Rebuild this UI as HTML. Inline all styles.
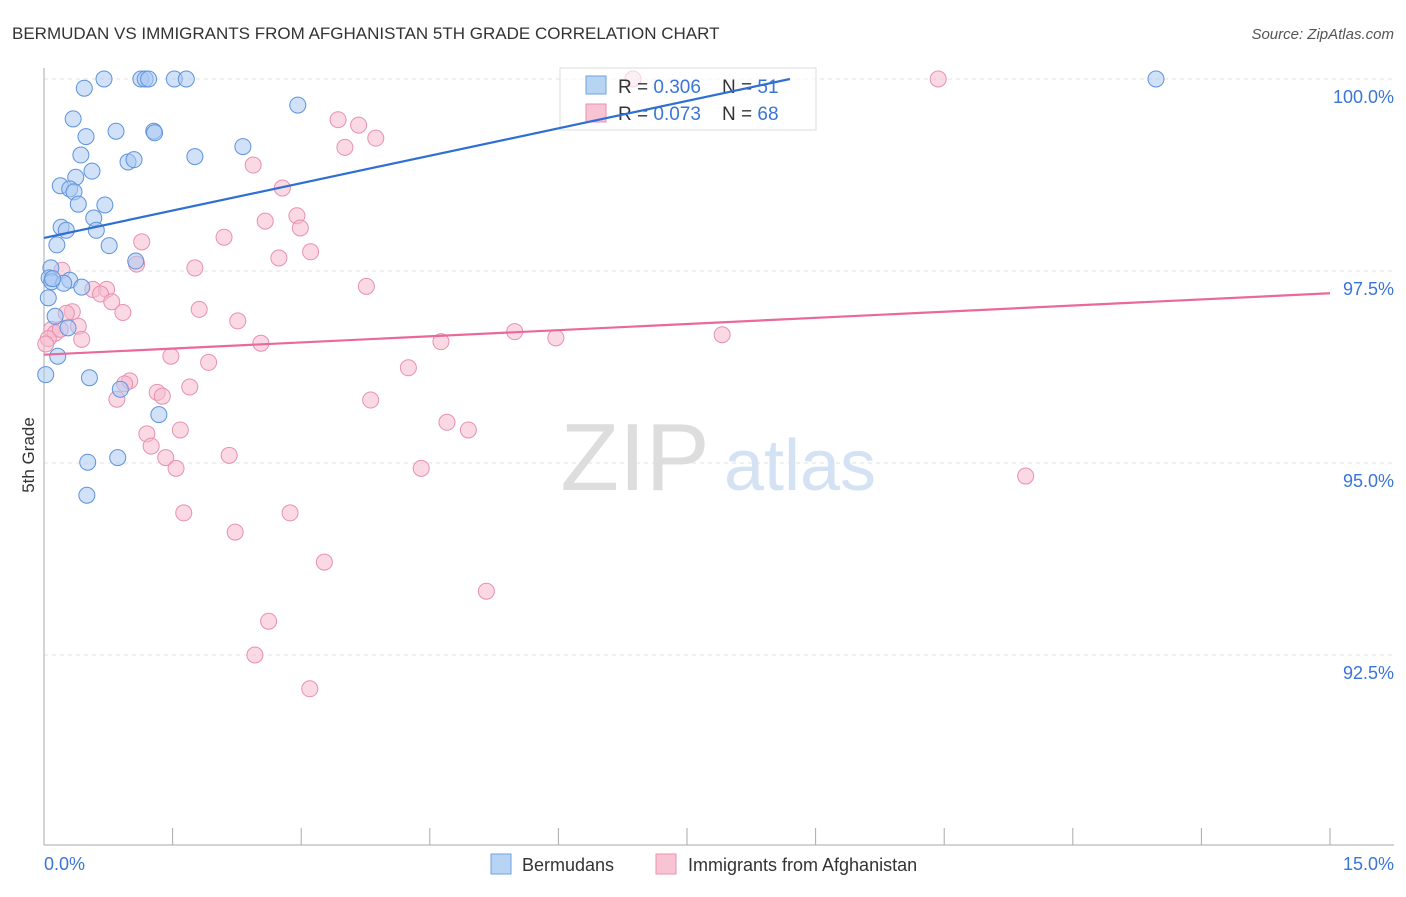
<!DOCTYPE html>
<html><head><meta charset="utf-8">
<style>
body{margin:0;background:#fff;font-family:"Liberation Sans",sans-serif;}
svg text{font-family:"Liberation Sans",sans-serif;}
</style></head>
<body>
<svg id="chart" width="1406" height="892" xmlns="http://www.w3.org/2000/svg">
<text x="12" y="39" font-size="17" fill="#333">BERMUDAN VS IMMIGRANTS FROM AFGHANISTAN 5TH GRADE CORRELATION CHART</text>
<text x="1394" y="39" font-size="15" fill="#555" text-anchor="end" font-style="italic">Source: ZipAtlas.com</text>
<g id="grid"></g>
<g>
<text x="635" y="490" font-size="96" fill="#ddd" text-anchor="middle" font-family="Liberation Serif">ZIP</text>
<text x="800" y="490" font-size="72" fill="#d4e2f4" text-anchor="middle">atlas</text>
</g>
<g id="axes"></g>
<g id="pts"></g>
<g>
<rect x="560" y="68" width="256" height="62" fill="#fff" fill-opacity="0.6" stroke="#ddd"/>
<rect x="586" y="76" width="20" height="18" fill="#b8d4f4" stroke="#6fa0e0"/>
<rect x="586" y="104" width="20" height="18" fill="#f8c4d4" stroke="#e890ae"/>
<text x="618" y="93" font-size="19" fill="#333" xml:space="preserve" style="white-space:pre">R = <tspan fill="#3a75d8">0.306</tspan>    N = <tspan fill="#3a75d8">51</tspan></text>
<text x="618" y="120" font-size="19" fill="#333" xml:space="preserve" style="white-space:pre">R = <tspan fill="#3a75d8">0.073</tspan>    N = <tspan fill="#3a75d8">68</tspan></text>
</g>
<g id="lines"></g>
<text x="34" y="455" font-size="17" fill="#333" text-anchor="middle" transform="rotate(-90 34 455)">5th Grade</text>
<g>
<rect x="491" y="854" width="20" height="20" fill="#b8d4f4" stroke="#6fa0e0"/>
<text x="522" y="871" font-size="18" fill="#333">Bermudans</text>
<rect x="656" y="854" width="20" height="20" fill="#f8c4d4" stroke="#e890ae"/>
<text x="688" y="871" font-size="18" fill="#333">Immigrants from Afghanistan</text>
</g>
</svg>
<script>
const xTicks=[0,1.5,3,4.5,6,7.5,9,10.5,12,13.5,15];
const yTicks=[100,97.5,95,92.5];
const yTickLabels=["100.0%","97.5%","95.0%","92.5%"];
const blueX=[0.7,1.13,1.18,1.22,1.52,1.66,0.47,2.96,0.34,0.84,1.28,1.29,0.49,2.32,0.43,1.76,0.98,1.05,0.56,0.37,0.19,0.30,0.35,0.71,0.40,0.58,0.20,0.26,0.61,0.15,0.76,1.07,0.08,0.06,0.09,0.30,0.23,0.44,0.05,0.13,0.28,0.16,0.02,0.53,0.89,1.34,0.86,0.51,0.50,12.97,0.10];
const blueY=[100,100,100,100,100,100,99.88,99.66,99.48,99.32,99.32,99.3,99.25,99.12,99.01,98.99,98.92,98.95,98.8,98.72,98.61,98.57,98.53,98.36,98.37,98.19,98.07,98.03,98.03,97.84,97.83,97.63,97.54,97.41,97.36,97.38,97.34,97.29,97.15,96.91,96.76,96.39,96.15,96.11,95.96,95.63,95.07,95.01,94.58,100,97.4];
const pinkX=[6.87,10.43,3.43,3.67,3.87,3.51,2.44,2.78,2.95,2.58,2.99,2.1,1.14,3.11,2.74,1.08,0.21,1.76,3.76,0.57,0.73,0.66,0.79,1.81,0.33,0.26,0.92,2.26,0.40,0.09,0.13,0.44,5.49,5.97,4.63,7.91,2.53,1.48,1.92,4.25,1.0,0.94,1.70,0.85,1.32,1.38,3.81,4.70,4.95,1.59,1.2,1.25,1.42,2.16,1.54,4.40,11.45,1.63,2.87,2.23,3.27,5.16,2.62,2.46,3.1,0.05,0.19,0.02];
const pinkY=[100,100,99.47,99.4,99.23,99.11,98.88,98.58,98.22,98.15,98.06,97.94,97.88,97.75,97.67,97.59,97.51,97.54,97.3,97.26,97.26,97.2,97.1,97.0,96.97,96.95,96.96,96.85,96.78,96.74,96.69,96.61,96.71,96.63,96.58,96.67,96.56,96.39,96.31,96.24,96.07,96.03,95.99,95.83,95.92,95.87,95.82,95.53,95.43,95.43,95.38,95.22,95.07,95.1,94.93,94.93,94.83,94.35,94.35,94.1,93.71,93.33,92.94,92.5,92.06,96.62,96.74,96.55];
const blueTrend=[[0,97.93],[8.7,100]];
const pinkTrend=[[0,96.41],[15,97.21]];
const X=v=>44+v/15*1286, Y=v=>79+(100-v)/2.5*192;
const NS="http://www.w3.org/2000/svg";
function mk(tag,attrs,parent){const e=document.createElementNS(NS,tag);for(const k in attrs)e.setAttribute(k,attrs[k]);parent.appendChild(e);return e;}
const grid=document.getElementById('grid'),axes=document.getElementById('axes'),pts=document.getElementById('pts'),lines=document.getElementById('lines');
yTicks.forEach((t,i)=>{
 const l=mk('line',{x1:44,x2:1394,y1:Y(t),y2:Y(t),stroke:'#e2e2e2','stroke-dasharray':'4,4'},grid);
 
 
 const tx=mk('text',{x:1394,y:Y(t)+24,'font-size':18,fill:'#3a75d8','text-anchor':'end'},axes);
 tx.textContent=yTickLabels[i];
 
 
});
const ax=mk('line',{x1:44,x2:1394,y1:845,y2:845,stroke:'#aaa'},axes);


const ay=mk('line',{x1:44,x2:44,y1:68,y2:845,stroke:'#aaa'},axes);


xTicks.forEach(t=>{
 const l=mk('line',{x1:X(t),x2:X(t),y1:828,y2:845,stroke:'#aaa'},axes);
 
 
});
[[0,'0.0%','start',44],[15,'15.0%','end',1394]].forEach(a=>{
 const tx=mk('text',{x:a[3],y:870,'font-size':18,fill:'#3a75d8','text-anchor':a[2]},axes);
 tx.textContent=a[1];
 
 
});
function dots(xs,ys,fill,stroke,name){xs.forEach((x,i)=>{
 const c=mk('circle',{cx:X(x),cy:Y(ys[i]),r:8,fill:fill,'fill-opacity':0.55,stroke:stroke,'stroke-width':1},pts);
 
 
});}
dots(pinkX,pinkY,'#f6b9cd','#e890ae','point-afghanistan');
dots(blueX,blueY,'#a9c9f2','#5e93dd','point-bermudan');
function trend(tr,col,name){
 const l=mk('line',{x1:X(tr[0][0]),y1:Y(tr[0][1]),x2:X(tr[1][0]),y2:Y(tr[1][1]),stroke:col,'stroke-width':2.2},lines);
 
 
}
trend(blueTrend,'#2f6fd3','trend-line-bermudans');
trend(pinkTrend,'#e8699a','trend-line-afghanistan');
</script>
</body></html>
